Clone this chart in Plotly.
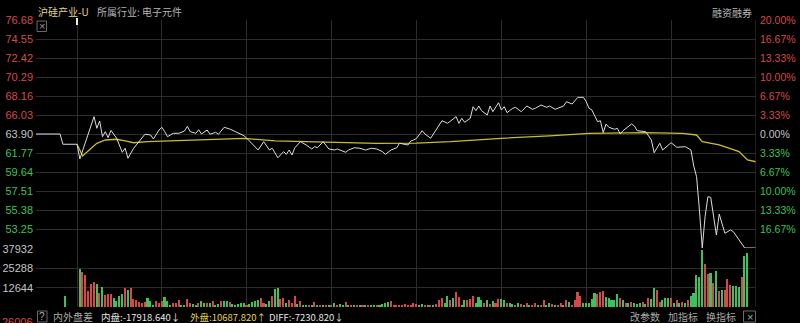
import plotly.graph_objects as go

# ---------------- data ----------------
prev_close = 63.90

# minute index (0 = 9:30, 120 = 11:30/13:00, 240 = 15:00; negatives = call auction)
price_t = [-15, -6, -5, 0, 1, 6, 7, 8, 9, 10, 11, 12, 14, 15, 16, 17, 18, 20, 21, 22, 24, 26, 27, 29, 30,
           31, 32, 34, 36, 38, 39, 40, 42, 43, 44, 46, 47, 49, 50, 52, 54, 56, 59, 60, 64, 66, 68, 69, 71,
           73, 74, 75, 76, 77, 79, 81, 83, 84, 85, 87, 89, 91, 92, 95, 96, 98, 100, 102, 104, 106, 108,
           109, 111, 113, 114, 117, 118, 119, 120, 122, 123, 125, 127, 129, 131, 134, 135, 136, 137, 139,
           140, 141, 142, 143, 145, 146, 147, 149, 150, 151, 152, 154, 155, 157, 159, 161, 162, 164, 166,
           167, 169, 172, 173, 175, 177, 179, 180, 181, 182, 184, 185, 186, 187, 188, 190, 191, 192, 193,
           196, 197, 198, 201, 203, 204, 206, 207, 210, 212, 215, 217, 218, 219, 220, 221, 222, 223, 224,
           226, 227, 229, 231, 232, 236, 240]
price_v = [63.90, 63.90, 62.75, 62.75, 61.10, 65.84, 64.54, 65.36, 63.60, 64.16, 63.49, 64.31, 63.42, 62.67,
           61.85, 62.30, 61.18, 62.30, 62.67, 63.04, 63.87, 63.79, 63.34, 64.35, 64.65, 64.16, 63.60, 63.98,
           63.98, 64.24, 64.76, 64.16, 63.98, 64.38, 63.90, 64.35, 63.87, 64.09, 63.87, 64.65, 64.46, 64.16,
           63.71, 63.42, 62.11, 63.04, 62.11, 62.30, 61.24, 61.92, 61.62, 62.11, 61.55, 62.36, 63.04, 62.67,
           62.22, 62.48, 62.36, 63.04, 62.22, 62.11, 62.22, 61.85, 62.11, 62.36, 62.30, 62.11, 62.30, 62.22,
           61.92, 61.62, 62.11, 62.36, 62.86, 62.67, 63.12, 63.23, 63.40, 64.27, 63.90, 63.42, 64.35, 65.39,
           65.10, 65.84, 65.10, 65.66, 65.21, 65.66, 66.96, 66.51, 67.04, 66.51, 66.03, 67.04, 66.40, 67.41,
           66.59, 66.96, 66.29, 66.78, 66.89, 66.40, 67.04, 66.67, 66.78, 67.15, 66.89, 67.04, 66.67, 67.04,
           67.52, 67.26, 68.01, 68.01, 67.52, 66.78, 66.59, 65.28, 65.39, 64.05, 65.02, 64.65, 64.43, 64.54,
           63.90, 64.27, 65.02, 64.80, 64.27, 64.16, 63.23, 61.80, 62.86, 62.11, 62.92, 62.41, 62.48, 62.11,
           60.31, 59.11, 55.38, 51.12, 54.63, 56.87, 56.80, 52.58, 54.93, 52.77, 53.14, 52.95, 51.12, 51.12]

avg_t = [0, 2, 5, 7, 10, 14, 17, 20, 25, 33, 44, 59, 70, 89, 106, 120, 132, 150, 167, 181, 201, 214, 219,
         221, 227, 234, 237, 240]
avg_v = [62.75, 61.43, 62.30, 62.86, 63.23, 63.31, 63.12, 62.92, 63.04, 63.12, 63.23, 63.42, 63.12, 62.97,
         62.86, 62.88, 63.04, 63.42, 63.68, 63.98, 64.05, 63.98, 63.79, 63.04, 62.67, 61.92, 60.99, 60.79]

# per-minute volume, minutes 1..240
volume = [24840, 23110, 20950, 10150, 14900, 16630, 14900, 9070, 13390, 7990, 8420, 8420, 5830, 4100, 6910,
          8420, 12310, 11230, 12310, 5400, 4750, 3240, 2590, 3240, 5830, 3670, 1510, 3670, 2590, 3670,
          6260, 4100, 1510, 2590, 2590, 4750, 1510, 1510, 5400, 2590, 1940, 1510, 2590, 4100, 2590,
          2590, 2590, 3670, 1510, 1940, 3670, 3670, 3670, 3240, 1940, 1510, 1940, 2590, 2590, 1080,
          1940, 3240, 4100, 4750, 5830, 2590, 1940, 4100, 6910, 11880, 12310, 5400, 5830, 2590, 4750,
          2590, 7340, 1940, 3670, 1510, 1510, 1080, 1080, 3240, 1080, 1080, 1510, 1510, 1080, 1510,
          2590, 1510, 1940, 1510, 3240, 1510, 1510, 860, 860, 1080, 860, 1080, 860, 1080, 1080,
          860, 1510, 1940, 2590, 3240, 4100, 1510, 1510, 1080, 1510, 1940, 1510, 1080, 2380, 1940,
          860, 2160, 1510, 860, 1510, 860, 2160, 4750, 5830, 2590, 7340, 4750, 5830, 9500, 6480,
          1510, 4750, 4320, 5180, 6910, 2590, 6480, 4750, 2590, 4320, 2160, 3670, 2590, 5180, 5180,
          4320, 2590, 2590, 2160, 1510, 2590, 2160, 1510, 2590, 1510, 1510, 2590, 1510, 1510, 4320,
          1510, 2590, 2160, 1510, 1510, 2590, 1510, 4320, 3020, 1510, 4750, 9500, 6910, 2590, 2590,
          2590, 5180, 9070, 8640, 9500, 10150, 6480, 5830, 4320, 4750, 8640, 5830, 4320, 2590, 2590,
          3020, 2590, 2160, 2590, 3020, 2160, 5830, 5180, 12310, 11230, 3020, 4320, 5830, 5830, 5830,
          2590, 4320, 2590, 3020, 2590, 4320, 7340, 9070, 20950, 19440, 37150, 28080, 21600, 22460, 15980,
          23760, 10150, 11230, 11230, 18140, 14470, 13820, 13820, 12960, 19870, 33260, 35420, 0, 0, 28080]
volume_dir = list("GRRRRRGRGRRRGGGGRGRRRRRRGGGRRRGGGRRRGGRRGGRGGRGRGGRGGRGGGGGR"
                  "GGGGRRGGRGGRRGRRRGRGGRGRGRGRGRGRGGRGRGRGRGRGGRGGGGRRRRRRRRRR"
                  "GGRGRGRRRGGRGRRGGRRRGGGRGRGRRGGRGGRGRGRGRRGRRGGRGRRGRGRRRRG"
                  "GGGGRRRGGGGGRGRGRGGGRGRGGRRGGGRGRGRGRGGGGGRRGRGRGRRRGGGRGGG")
auction_t = [-4]
auction_vol = [7000]

price_ticks = [76.68, 74.55, 72.42, 70.29, 68.16, 66.03, 63.90, 61.77, 59.64, 57.51, 55.38, 53.25]
pct_labels = ["20.00%", "16.67%", "13.33%", "10.00%", "6.67%", "3.33%", "0.00%",
              "3.33%", "6.67%", "10.00%", "13.33%", "16.67%"]
vol_ticks = [12644, 25288, 37932]
vol_labels = ["12644", "25288", "37932"]

# ---------------- styling ----------------
RED = "#d84848"
GREEN = "#3cc25a"
GRAY = "#c4c4c4"
GRID = "#2c2c2c"
WHITE_LINE = "#dcdcdc"
AVG_LINE = "#c9bc2e"
FONT = "Liberation Sans, Arial, sans-serif"
CJK = "Noto Sans CJK SC, sans-serif"

W, H = 800, 323
ML, MR, MT, MB = 36, 44, 20, 16
PLOT_H = H - MT - MB
split = (H - MB - 248) / PLOT_H


def px(x):
    return (x - ML) / (W - ML - MR)


def py(y):
    return (H - MB - y) / PLOT_H


def tick_color(v):
    if abs(v - prev_close) < 1e-6:
        return GRAY
    return RED if v > prev_close else GREEN


left_text = [f'<span style="color:{tick_color(v)}">{v:.2f}</span>' for v in price_ticks]
right_text = [f'<span style="color:{tick_color(v)}">{t}</span>' for v, t in zip(price_ticks, pct_labels)]

n = len(volume)
vol_t = list(range(1, n + 1))
vol_colors = [RED if d == "R" else GREEN for d in volume_dir[:n]]

fig = go.Figure()
fig.add_trace(go.Bar(x=auction_t + vol_t, y=auction_vol + volume,
                     marker=dict(color=[GREEN] + vol_colors, line=dict(width=0)),
                     width=0.55, xaxis="x2", yaxis="y2", hoverinfo="skip"))
fig.add_trace(go.Scatter(x=avg_t, y=avg_v, mode="lines",
                         line=dict(color=AVG_LINE, width=1.3), hoverinfo="skip"))
fig.add_trace(go.Scatter(x=price_t, y=price_v, mode="lines",
                         line=dict(color=WHITE_LINE, width=1.0), hoverinfo="skip"))
fig.add_trace(go.Scatter(x=price_t, y=price_v, mode="lines", yaxis="y3",
                         line=dict(color="rgba(0,0,0,0)", width=0), hoverinfo="skip", showlegend=False))

grid_x = [0, 30, 60, 90, 120, 150, 180, 210]
xcommon = dict(range=[-14.5, 240], tickvals=grid_x, showgrid=True, gridcolor=GRID, gridwidth=1,
               showticklabels=False, zeroline=False, ticks="", showline=False, fixedrange=True,
               automargin=False)

fig.update_layout(
    width=W, height=H,
    margin=dict(l=ML, r=MR, t=MT, b=MB, autoexpand=False),
    paper_bgcolor="#000000", plot_bgcolor="#000000",
    showlegend=False, bargap=0,
    font=dict(family=FONT, size=11, color=GRAY),
    xaxis=dict(domain=[0, 1], anchor="y", **xcommon),
    xaxis2=dict(domain=[0, 1], anchor="y2", matches="x", **xcommon),
    yaxis=dict(domain=[split, 1], range=[51.12, 76.68], tickvals=price_ticks + [51.12],
               ticktext=left_text + [""], showgrid=True, gridcolor=GRID, zeroline=False,
               ticks="", tickfont=dict(size=11, family=FONT), fixedrange=True, ticklabelstandoff=2,
               automargin=False),
    yaxis3=dict(overlaying="y", side="right", range=[51.12, 76.68], tickvals=price_ticks,
                ticktext=right_text, showgrid=False, zeroline=False, ticks="",
                tickfont=dict(size=10.5, family=FONT), fixedrange=True, ticklabelstandoff=3,
                automargin=False),
    yaxis2=dict(domain=[0, split], range=[0, 37932 * 59 / 58], tickvals=vol_ticks, ticktext=vol_labels,
                showgrid=True, gridcolor=GRID, zeroline=False, ticks="",
                tickfont=dict(size=11, family=FONT, color=GRAY), fixedrange=True, ticklabelstandoff=2,
                automargin=False),
)

shapes = [
    dict(type="line", xref="x", yref="paper", x0=240, x1=240, y0=0, y1=1, line=dict(color="#3a3a3a", width=1)),
    dict(type="line", xref="x", yref="paper", x0=0, x1=0, y0=py(18), y1=py(25), line=dict(color="#e8e8e8", width=2)),
    dict(type="rect", xref="paper", yref="paper", x0=px(37), x1=px(46.5), y0=py(31.5), y1=py(21),
         line=dict(color="#6a6a6a", width=1)),
    dict(type="rect", xref="paper", yref="paper", x0=px(37.5), x1=px(47), y0=py(322), y1=py(311),
         line=dict(color="#6a6a6a", width=1)),
    dict(type="rect", xref="paper", yref="paper", x0=px(743.5), x1=px(755.5), y0=py(322), y1=py(311),
         line=dict(color="#6a6a6a", width=1)),
]
fig.update_layout(shapes=shapes)


def ann(text, x, y, color, size=11, xanchor="left", family=CJK):
    fig.add_annotation(text=text, x=px(x), y=py(y), xref="paper", yref="paper", showarrow=False,
                       xanchor=xanchor, yanchor="middle", font=dict(color=color, size=size, family=family),
                       borderpad=0)


ann("沪硅产业-U", 37, 11, "#e2d28c", size=10)
ann("所属行业: 电子元件", 96, 11, "#b4b4b4", size=10)
ann("融资融券", 753, 12, "#b4b4b4", size=10, xanchor="right")
ann("×", 41.8, 26, "#9a9a9a", size=11, xanchor="center", family=FONT)
ann("?", 42.3, 316.5, "#b0b0b0", size=10, xanchor="center", family=FONT)
ann("内外盘差", 52, 316.5, "#a8a8a8", size=10)
ann("内盘:-17918.640↓", 100, 316.5, "#e6e6e6", size=9.5)
ann("外盘:10687.820↑", 189, 316.5, "#e6d24a", size=9.5)
ann("DIFF:-7230.820↓", 268, 316.5, "#e6e6e6", size=9.5)
ann("改参数", 629, 316.5, "#a8a8a8", size=10)
ann("加指标", 667, 316.5, "#a8a8a8", size=10)
ann("换指标", 705, 316.5, "#a8a8a8", size=10)
ann("×", 749.5, 316.5, "#a8a8a8", size=11, xanchor="center", family=FONT)
ann("26006", 34, 322, RED, size=11, xanchor="right", family=FONT)

fig.write_html("out.html")
